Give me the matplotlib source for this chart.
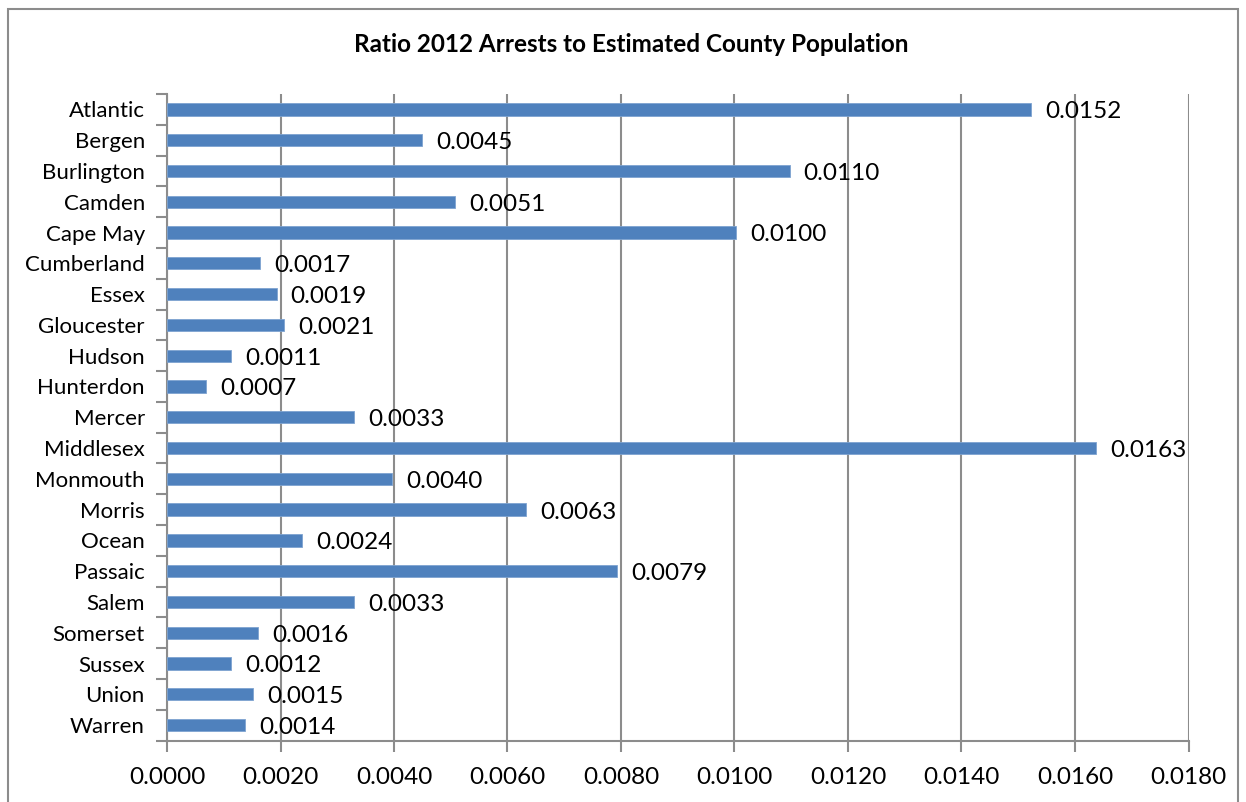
import numpy as np
import matplotlib.pyplot as plt
from matplotlib.patches import Rectangle

counties = ["Atlantic", "Bergen", "Burlington", "Camden", "Cape May", "Cumberland",
            "Essex", "Gloucester", "Hudson", "Hunterdon", "Mercer", "Middlesex",
            "Monmouth", "Morris", "Ocean", "Passaic", "Salem", "Somerset",
            "Sussex", "Union", "Warren"]
ratios = [0.0152, 0.0045, 0.0110, 0.0051, 0.0100, 0.0017,
          0.0019, 0.0021, 0.0011, 0.0007, 0.0033, 0.0163,
          0.0040, 0.0063, 0.0024, 0.0079, 0.0033, 0.0016,
          0.0012, 0.0015, 0.0014]
# bar ends as drawn (labels are rounded)
bar_ends = [0.01523, 0.00450, 0.01097, 0.00507, 0.01002, 0.00164,
            0.00193, 0.00207, 0.00113, 0.00069, 0.00330, 0.01637,
            0.00396, 0.00632, 0.00238, 0.00793, 0.00330, 0.00161,
            0.00113, 0.00152, 0.00138]
xticks = np.arange(0, 0.0181, 0.002)

plt.rcParams['font.family'] = ['Lato', 'DejaVu Sans']

fig = plt.figure(figsize=(12.46, 8.02), dpi=100)
fig.patches.append(Rectangle((8 / 1246, -0.05), 1230 / 1246, 1.05 - 9 / 802,
                             transform=fig.transFigure, fill=False,
                             edgecolor="#8c8c8c", linewidth=1.5))

ax = fig.add_axes([167 / 1246, 61.5 / 802, 1021.5 / 1246, 646.5 / 802])
y = np.arange(len(counties))
ax.barh(y, bar_ends, height=0.4, color="#4F81BD", edgecolor="#7ea3d0",
        linewidth=0.6, zorder=3)
for yi, v, lab in zip(y, bar_ends, ratios):
    ax.text(v + 0.00025, yi + 0.08, f"{lab:.4f}", va="center", ha="left",
            fontsize=17.5, zorder=4)

ax.set_ylim(len(counties) - 0.5, -0.5)
ax.set_xlim(0, 0.018)
ax.set_yticks(y)
ax.set_yticklabels(counties, fontsize=16)
ax.set_yticks(np.arange(-0.5, len(counties), 1), minor=True)
ax.tick_params(axis="y", which="major", length=0, pad=16)
ax.tick_params(axis="y", which="minor", length=8, width=1.5, color="#8c8c8c")
ax.set_xticks(xticks)
ax.set_xticklabels([f"{t:.4f}" for t in xticks], fontsize=17.5)
ax.tick_params(axis="x", length=8, width=1.5, color="#8c8c8c", pad=11)
ax.grid(axis="x", color="#8c8c8c", linewidth=1.5, zorder=0)
for s in ["top", "right"]:
    ax.spines[s].set_visible(False)
for s in ["left", "bottom"]:
    ax.spines[s].set_color("#8c8c8c")
    ax.spines[s].set_linewidth(1.5)

fig.text(631 / 1246, 1 - 45 / 802, "Ratio 2012 Arrests to Estimated County Population",
         ha="center", va="center", fontsize=17.5, fontweight="bold")

fig.savefig("out.png", dpi=100)
